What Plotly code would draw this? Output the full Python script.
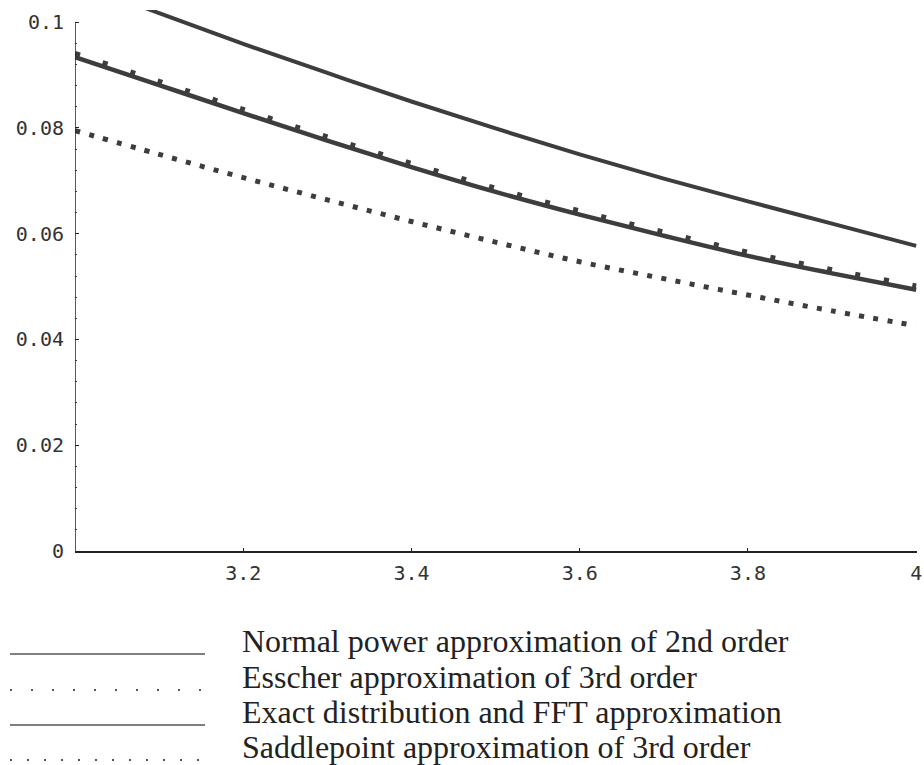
import plotly.graph_objects as go

# ---- data ----
x_vals = [3.0, 3.1, 3.2, 3.3, 3.4, 3.5, 3.6, 3.7, 3.8, 3.9, 4.0]
normal_power = [0.1078, 0.1017, 0.0959, 0.0904, 0.0850, 0.0799, 0.0750, 0.0704, 0.0661, 0.0619, 0.0577]
esscher = [0.0941, 0.0888, 0.0835, 0.0783, 0.0733, 0.0686, 0.0643, 0.0603, 0.0565, 0.0532, 0.0501]
exact_fft = [0.0934, 0.0881, 0.0828, 0.0776, 0.0726, 0.0679, 0.0636, 0.0596, 0.0558, 0.0525, 0.0494]
saddlepoint = [0.0795, 0.0750, 0.0706, 0.0664, 0.0623, 0.0584, 0.0547, 0.0515, 0.0484, 0.0454, 0.0426]

x_ticks = [3.2, 3.4, 3.6, 3.8, 4.0]
x_ticklabels = ["3.2", "3.4", "3.6", "3.8", "4"]
y_ticks = [0, 0.02, 0.04, 0.06, 0.08, 0.1]
y_ticklabels = ["0", "0.02", "0.04", "0.06", "0.08", "0.1"]

legend_labels = [
    "Normal power approximation of 2nd order",
    "Esscher approximation of 3rd order",
    "Exact distribution and FFT approximation",
    "Saddlepoint approximation of 3rd order",
]

# ---- layout geometry ----
W, H = 924, 765
ML, MR, MT, MB = 75, 7, 10, 214
Y_TOP = 0.1023
INK = "#3d3d3d"

def px_to_paper(px, py):
    return (px - ML) / (W - ML - MR), (H - MB - py) / (H - MT - MB)

fig = go.Figure()

fig.add_trace(go.Scatter(x=x_vals, y=normal_power, mode="lines", line_shape="spline",
                         line=dict(color=INK, width=4), showlegend=False,
                         name=legend_labels[0]))
fig.add_trace(go.Scatter(x=x_vals, y=exact_fft, mode="lines", line_shape="spline",
                         line=dict(color=INK, width=4.5), showlegend=False,
                         name=legend_labels[2]))
fig.add_trace(go.Scatter(x=x_vals, y=esscher, mode="lines", line_shape="spline",
                         line=dict(color=INK, width=5, dash="5px,24px"), showlegend=False,
                         name=legend_labels[1]))
fig.add_trace(go.Scatter(x=x_vals, y=saddlepoint, mode="lines", line_shape="spline",
                         line=dict(color=INK, width=5, dash="5px,9.4px"), showlegend=False,
                         name=legend_labels[3]))

tick_font = dict(family="DejaVu Sans Mono", size=20, color="#333333")

fig.update_xaxes(range=[3.0, 4.001], tickvals=x_ticks, ticktext=x_ticklabels,
                 showgrid=False, zeroline=False, showline=True, linecolor="#222",
                 linewidth=1.5, ticks="inside", ticklen=3, tickcolor="#222",
                 tickfont=tick_font, ticklabelstandoff=3, ticklabeloverflow="allow",
                 automargin=False)
fig.update_yaxes(range=[0, Y_TOP], tickvals=y_ticks, ticktext=y_ticklabels,
                 showgrid=False, zeroline=False, showline=False,
                 ticks="inside", ticklen=4, tickcolor="#222", tickwidth=1.2,
                 minor=dict(dtick=0.004, ticks="inside", ticklen=2, tickcolor="#444"),
                 tickfont=tick_font, ticklabelstandoff=10, automargin=False)

shapes = [dict(type="line", xref="x", yref="y", x0=3.0, x1=3.0, y0=0, y1=0.1,
               line=dict(color="#222", width=1.5))]
annotations = []

row_mid = [641, 677, 712, 747]
row_dash = ["solid", "2px,19px", "solid", "2px,15px"]
row_w = [1.3, 2, 1.3, 2]
for i, lab in enumerate(legend_labels):
    x0, y0 = px_to_paper(10, row_mid[i] + 13)
    x1, _ = px_to_paper(205, row_mid[i] + 13)
    shapes.append(dict(type="line", xref="paper", yref="paper", x0=x0, x1=x1, y0=y0, y1=y0,
                       line=dict(color="#555", width=row_w[i], dash=row_dash[i])))
    tx, ty = px_to_paper(240, row_mid[i])
    annotations.append(dict(x=tx, y=ty, xref="paper", yref="paper", text=lab,
                            showarrow=False, xanchor="left", yanchor="middle",
                            font=dict(family="Liberation Serif", size=32, color="#222")))

fig.update_layout(width=W, height=H, margin=dict(l=ML, r=MR, t=MT, b=MB),
                  plot_bgcolor="white", paper_bgcolor="white",
                  shapes=shapes, annotations=annotations)

fig.write_html("out.html")
